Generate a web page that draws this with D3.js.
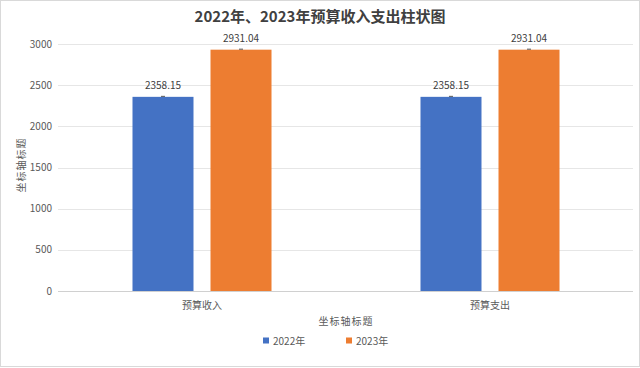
<!DOCTYPE html>
<html><head><meta charset="utf-8">
<script src="https://cdn.jsdelivr.net/npm/d3@7"></script>
<style>body{margin:0;background:#fff;}svg{display:block;}</style>
</head><body>
<script>
const categories = ["预算收入", "预算支出"];
const seriesNames = ["2022年", "2023年"];
const values2022 = [2358.15, 2358.15];
const values2023 = [2931.04, 2931.04];
const yTicks = [0, 500, 1000, 1500, 2000, 2500, 3000];
const colors = ["#4472C4", "#ED7D31"];
const font = "'Microsoft YaHei','Noto Sans CJK SC','Noto Sans',sans-serif";

const W = 640, H = 368;
const svg = d3.select("body").append("svg").attr("width", W).attr("height", H);
svg.append("rect").attr("x", 0.5).attr("y", 0.5).attr("width", W - 1).attr("height", H - 2)
  .attr("fill", "#fff").attr("stroke", "#d9d9d9");

const x0 = d3.scaleBand().domain(categories).range([58, 634]).paddingInner(0).paddingOuter(0);
const x1 = d3.scaleBand().domain(seriesNames).range([0, x0.bandwidth()]).paddingInner(0.218).paddingOuter(0.955);
const y = d3.scaleLinear().domain([0, 3000]).range([291, 44]);

// gridlines
svg.append("g").selectAll("line").data(yTicks).join("line")
  .attr("x1", 58).attr("x2", 633)
  .attr("y1", d => Math.round(y(d)) + 0.5).attr("y2", d => Math.round(y(d)) + 0.5)
  .attr("stroke", d => d === 0 ? "#d0d0d0" : "#e6e6e6").attr("stroke-width", 1);

// y tick labels
svg.append("g").selectAll("text").data(yTicks).join("text")
  .attr("x", 52).attr("y", d => y(d)).attr("dy", "0.35em").attr("text-anchor", "end")
  .attr("font-family", font).attr("font-size", 10).attr("fill", "#595959").text(d => d);

const data = categories.map((c, i) => ({cat: c, vals: [values2022[i], values2023[i]]}));
const groups = svg.append("g").selectAll("g").data(data).join("g")
  .attr("transform", d => `translate(${x0(d.cat)},0)`);
const items = d => d.vals.map((v, j) => ({name: seriesNames[j], v, j}));
groups.selectAll("rect").data(items).join("rect")
  .attr("x", d => x1(d.name)).attr("width", x1.bandwidth())
  .attr("y", d => y(d.v)).attr("height", d => y(0) - y(d.v))
  .attr("fill", d => colors[d.j]);
groups.selectAll("line").data(items).join("line")
  .attr("x1", d => x1(d.name) + x1.bandwidth() / 2 - 2).attr("x2", d => x1(d.name) + x1.bandwidth() / 2 + 2)
  .attr("y1", d => y(d.v) - 0.5).attr("y2", d => y(d.v) - 0.5)
  .attr("stroke", "#555").attr("stroke-width", 1);
groups.selectAll("text").data(items).join("text")
  .attr("x", d => x1(d.name) + x1.bandwidth() / 2).attr("y", d => y(d.v) - 8)
  .attr("text-anchor", "middle").attr("font-family", font).attr("font-size", 10).attr("fill", "#404040")
  .text(d => d.v.toFixed(2));

// x labels
svg.append("g").selectAll("text").data(categories).join("text")
  .attr("x", d => x0(d) + x0.bandwidth() / 2).attr("y", 309).attr("text-anchor", "middle")
  .attr("font-family", font).attr("font-size", 10).attr("fill", "#595959").text(d => d);

// title
svg.append("text").attr("x", 320).attr("y", 22).attr("text-anchor", "middle")
  .attr("font-family", font).attr("font-size", 15).attr("font-weight", "bold").attr("fill", "#404040")
  .text("2022年、2023年预算收入支出柱状图");

// axis titles
svg.append("text").attr("x", 346).attr("y", 325).attr("text-anchor", "middle")
  .attr("font-family", font).attr("font-size", 10).attr("fill", "#595959").attr("letter-spacing", 1).text("坐标轴标题");
svg.append("text").attr("transform", "translate(25,165) rotate(-90)").attr("text-anchor", "middle")
  .attr("font-family", font).attr("font-size", 10).attr("fill", "#595959").attr("letter-spacing", 1).text("坐标轴标题");

// legend
const legX = [263, 346];
const leg = svg.append("g").selectAll("g").data(seriesNames).join("g")
  .attr("transform", (d, i) => `translate(${legX[i]},341)`);
leg.append("rect").attr("x", 0).attr("y", -3.5).attr("width", 6).attr("height", 6).attr("fill", (d, i) => colors[i]);
leg.append("text").attr("x", 10).attr("y", 0).attr("dy", "0.35em").attr("font-family", font)
  .attr("font-size", 10).attr("fill", "#595959").text(d => d);
</script>
</body></html>
